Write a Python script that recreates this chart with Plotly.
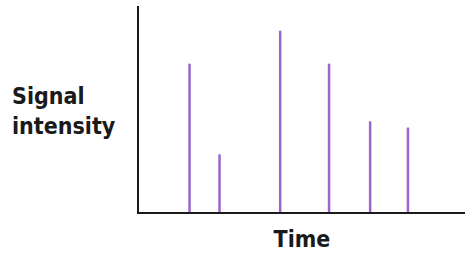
import plotly.graph_objects as go

# Data
peak_times = [15.5, 24.7, 43.3, 58.3, 70.9, 82.5]
peak_intensity = [72, 28, 88, 72, 44, 41]
x_title = "Time"
y_title = "Signal<br>intensity"

xs, ys = [], []
for t, v in zip(peak_times, peak_intensity):
    xs += [t, t, None]
    ys += [0, v, None]

FONT = "DejaVu Sans Condensed, DejaVu Sans, sans-serif"

fig = go.Figure()
fig.add_trace(go.Scatter(x=xs, y=ys, mode="lines",
                         line=dict(color="#9b66cc", width=2.5),
                         hoverinfo="skip", showlegend=False))

fig.update_layout(
    width=465, height=256,
    margin=dict(l=139, r=0, t=6, b=44),
    paper_bgcolor="white", plot_bgcolor="white",
    font=dict(family=FONT, color="#1a1a1a"),
    xaxis=dict(range=[0, 100], showgrid=False, zeroline=False, showticklabels=False,
               ticks="", showline=True, linecolor="#1a1a1a", linewidth=2,
               title=dict(text="<b>%s</b>" % x_title, font=dict(size=23), standoff=18)),
    yaxis=dict(range=[0, 100], showgrid=False, zeroline=False, showticklabels=False,
               ticks="", showline=True, linecolor="#1a1a1a", linewidth=2),
    annotations=[dict(text="<b>%s</b>" % y_title, xref="paper", yref="paper",
                      x=-139/326 + 10/326, y=0.5 - 2/206, xanchor="left", yanchor="middle",
                      align="left", showarrow=False, font=dict(size=23))],
)

fig.write_html("out.html", config={"displayModeBar": False})
with open("out.html") as f:
    html = f.read()
html = html.replace("<head>", "<head><style>html,body{margin:0;padding:0;overflow:hidden}</style>", 1)
with open("out.html", "w") as f:
    f.write(html)
